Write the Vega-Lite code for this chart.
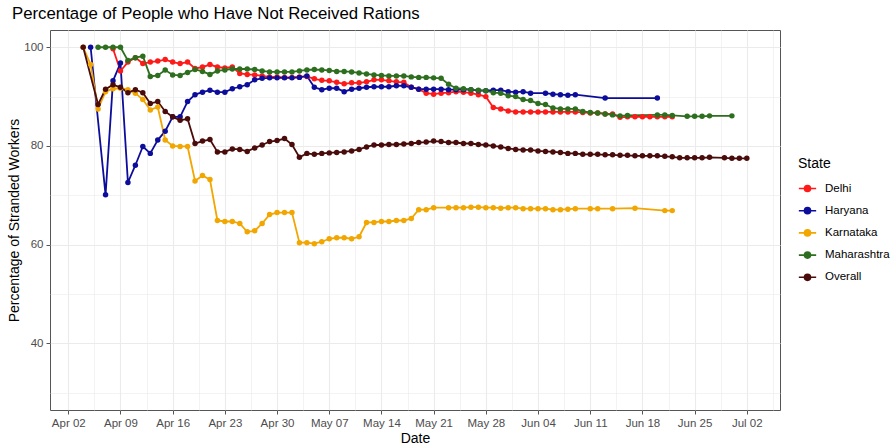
{
  "$schema": "https://vega.github.io/schema/vega-lite/v6.json",
  "width": 730,
  "height": 380,
  "autosize": {"type": "none"},
  "padding": {"left": 50, "top": 30, "right": 113, "bottom": 35},
  "background": "white",
  "title": {"text": "Percentage of People who Have Not Received Rations", "anchor": "start", "frame": "group", "dx": -38, "offset": 7, "fontSize": 16.8, "font": "Liberation Sans", "fontWeight": "normal", "color": "#000000"},
  "config": {
    "view": {"stroke": "#555555", "strokeWidth": 1},
    "font": "Liberation Sans"
  },
  "data": {"values": [
    {"date": "2020-04-08T00:00", "state": "Delhi", "pct": 99.7},
    {"date": "2020-04-09T00:00", "state": "Delhi", "pct": 95.2},
    {"date": "2020-04-10T00:00", "state": "Delhi", "pct": 97.0},
    {"date": "2020-04-11T00:00", "state": "Delhi", "pct": 97.9},
    {"date": "2020-04-12T00:00", "state": "Delhi", "pct": 96.7},
    {"date": "2020-04-13T00:00", "state": "Delhi", "pct": 97.0},
    {"date": "2020-04-14T00:00", "state": "Delhi", "pct": 97.2},
    {"date": "2020-04-15T00:00", "state": "Delhi", "pct": 97.5},
    {"date": "2020-04-16T00:00", "state": "Delhi", "pct": 97.0},
    {"date": "2020-04-17T00:00", "state": "Delhi", "pct": 96.7},
    {"date": "2020-04-18T00:00", "state": "Delhi", "pct": 97.0},
    {"date": "2020-04-19T00:00", "state": "Delhi", "pct": 95.7},
    {"date": "2020-04-20T00:00", "state": "Delhi", "pct": 96.0},
    {"date": "2020-04-21T00:00", "state": "Delhi", "pct": 96.5},
    {"date": "2020-04-22T00:00", "state": "Delhi", "pct": 96.0},
    {"date": "2020-04-23T00:00", "state": "Delhi", "pct": 95.8},
    {"date": "2020-04-24T00:00", "state": "Delhi", "pct": 96.0},
    {"date": "2020-04-25T00:00", "state": "Delhi", "pct": 94.7},
    {"date": "2020-04-26T00:00", "state": "Delhi", "pct": 94.5},
    {"date": "2020-04-27T00:00", "state": "Delhi", "pct": 94.4},
    {"date": "2020-04-28T00:00", "state": "Delhi", "pct": 94.2},
    {"date": "2020-04-29T00:00", "state": "Delhi", "pct": 94.0},
    {"date": "2020-04-30T00:00", "state": "Delhi", "pct": 94.0},
    {"date": "2020-05-01T00:00", "state": "Delhi", "pct": 93.9},
    {"date": "2020-05-02T00:00", "state": "Delhi", "pct": 93.9},
    {"date": "2020-05-03T00:00", "state": "Delhi", "pct": 94.0},
    {"date": "2020-05-04T00:00", "state": "Delhi", "pct": 94.1},
    {"date": "2020-05-05T00:00", "state": "Delhi", "pct": 93.6},
    {"date": "2020-05-06T00:00", "state": "Delhi", "pct": 93.3},
    {"date": "2020-05-07T00:00", "state": "Delhi", "pct": 93.2},
    {"date": "2020-05-08T00:00", "state": "Delhi", "pct": 92.9},
    {"date": "2020-05-09T00:00", "state": "Delhi", "pct": 92.6},
    {"date": "2020-05-10T00:00", "state": "Delhi", "pct": 92.8},
    {"date": "2020-05-11T00:00", "state": "Delhi", "pct": 92.8},
    {"date": "2020-05-12T00:00", "state": "Delhi", "pct": 93.0},
    {"date": "2020-05-13T00:00", "state": "Delhi", "pct": 93.4},
    {"date": "2020-05-14T00:00", "state": "Delhi", "pct": 93.4},
    {"date": "2020-05-15T00:00", "state": "Delhi", "pct": 93.2},
    {"date": "2020-05-16T00:00", "state": "Delhi", "pct": 93.0},
    {"date": "2020-05-17T00:00", "state": "Delhi", "pct": 92.9},
    {"date": "2020-05-18T00:00", "state": "Delhi", "pct": 91.9},
    {"date": "2020-05-19T00:00", "state": "Delhi", "pct": 91.5},
    {"date": "2020-05-20T00:00", "state": "Delhi", "pct": 90.7},
    {"date": "2020-05-21T00:00", "state": "Delhi", "pct": 90.5},
    {"date": "2020-05-22T00:00", "state": "Delhi", "pct": 90.7},
    {"date": "2020-05-23T00:00", "state": "Delhi", "pct": 90.8},
    {"date": "2020-05-24T00:00", "state": "Delhi", "pct": 91.0},
    {"date": "2020-05-25T00:00", "state": "Delhi", "pct": 90.9},
    {"date": "2020-05-26T00:00", "state": "Delhi", "pct": 90.7},
    {"date": "2020-05-27T00:00", "state": "Delhi", "pct": 90.4},
    {"date": "2020-05-28T00:00", "state": "Delhi", "pct": 90.0},
    {"date": "2020-05-29T00:00", "state": "Delhi", "pct": 87.8},
    {"date": "2020-05-30T00:00", "state": "Delhi", "pct": 87.5},
    {"date": "2020-05-31T00:00", "state": "Delhi", "pct": 87.1},
    {"date": "2020-06-01T00:00", "state": "Delhi", "pct": 86.9},
    {"date": "2020-06-02T00:00", "state": "Delhi", "pct": 86.9},
    {"date": "2020-06-03T00:00", "state": "Delhi", "pct": 86.9},
    {"date": "2020-06-04T00:00", "state": "Delhi", "pct": 86.9},
    {"date": "2020-06-05T00:00", "state": "Delhi", "pct": 86.9},
    {"date": "2020-06-06T00:00", "state": "Delhi", "pct": 86.9},
    {"date": "2020-06-07T00:00", "state": "Delhi", "pct": 86.9},
    {"date": "2020-06-08T00:00", "state": "Delhi", "pct": 86.9},
    {"date": "2020-06-09T00:00", "state": "Delhi", "pct": 86.9},
    {"date": "2020-06-10T00:00", "state": "Delhi", "pct": 86.8},
    {"date": "2020-06-11T00:00", "state": "Delhi", "pct": 86.7},
    {"date": "2020-06-12T00:00", "state": "Delhi", "pct": 86.7},
    {"date": "2020-06-13T00:00", "state": "Delhi", "pct": 86.5},
    {"date": "2020-06-14T00:00", "state": "Delhi", "pct": 86.5},
    {"date": "2020-06-15T00:00", "state": "Delhi", "pct": 85.8},
    {"date": "2020-06-16T00:00", "state": "Delhi", "pct": 85.9},
    {"date": "2020-06-17T00:00", "state": "Delhi", "pct": 85.9},
    {"date": "2020-06-18T00:00", "state": "Delhi", "pct": 85.9},
    {"date": "2020-06-19T00:00", "state": "Delhi", "pct": 85.9},
    {"date": "2020-06-20T00:00", "state": "Delhi", "pct": 85.9},
    {"date": "2020-06-21T00:00", "state": "Delhi", "pct": 85.9},
    {"date": "2020-06-22T00:00", "state": "Delhi", "pct": 85.9},

    {"date": "2020-04-05T00:00", "state": "Haryana", "pct": 100},
    {"date": "2020-04-07T00:00", "state": "Haryana", "pct": 70.1},
    {"date": "2020-04-08T00:00", "state": "Haryana", "pct": 93.2},
    {"date": "2020-04-09T00:00", "state": "Haryana", "pct": 96.8},
    {"date": "2020-04-10T00:00", "state": "Haryana", "pct": 72.6},
    {"date": "2020-04-11T00:00", "state": "Haryana", "pct": 76.1},
    {"date": "2020-04-12T00:00", "state": "Haryana", "pct": 79.9},
    {"date": "2020-04-13T00:00", "state": "Haryana", "pct": 78.5},
    {"date": "2020-04-14T00:00", "state": "Haryana", "pct": 81.2},
    {"date": "2020-04-15T00:00", "state": "Haryana", "pct": 83.0},
    {"date": "2020-04-16T00:00", "state": "Haryana", "pct": 85.9},
    {"date": "2020-04-17T00:00", "state": "Haryana", "pct": 85.9},
    {"date": "2020-04-18T00:00", "state": "Haryana", "pct": 89.0},
    {"date": "2020-04-19T00:00", "state": "Haryana", "pct": 90.4},
    {"date": "2020-04-20T00:00", "state": "Haryana", "pct": 90.9},
    {"date": "2020-04-21T00:00", "state": "Haryana", "pct": 91.3},
    {"date": "2020-04-22T00:00", "state": "Haryana", "pct": 90.9},
    {"date": "2020-04-23T00:00", "state": "Haryana", "pct": 90.9},
    {"date": "2020-04-24T00:00", "state": "Haryana", "pct": 91.6},
    {"date": "2020-04-25T00:00", "state": "Haryana", "pct": 92.0},
    {"date": "2020-04-26T00:00", "state": "Haryana", "pct": 92.4},
    {"date": "2020-04-27T00:00", "state": "Haryana", "pct": 93.4},
    {"date": "2020-04-28T00:00", "state": "Haryana", "pct": 93.7},
    {"date": "2020-04-29T00:00", "state": "Haryana", "pct": 93.8},
    {"date": "2020-04-30T00:00", "state": "Haryana", "pct": 93.8},
    {"date": "2020-05-01T00:00", "state": "Haryana", "pct": 93.8},
    {"date": "2020-05-02T00:00", "state": "Haryana", "pct": 93.8},
    {"date": "2020-05-03T00:00", "state": "Haryana", "pct": 93.9},
    {"date": "2020-05-04T00:00", "state": "Haryana", "pct": 94.2},
    {"date": "2020-05-05T00:00", "state": "Haryana", "pct": 91.9},
    {"date": "2020-05-06T00:00", "state": "Haryana", "pct": 91.4},
    {"date": "2020-05-07T00:00", "state": "Haryana", "pct": 91.7},
    {"date": "2020-05-08T00:00", "state": "Haryana", "pct": 91.7},
    {"date": "2020-05-09T00:00", "state": "Haryana", "pct": 91.0},
    {"date": "2020-05-10T00:00", "state": "Haryana", "pct": 91.5},
    {"date": "2020-05-11T00:00", "state": "Haryana", "pct": 91.7},
    {"date": "2020-05-12T00:00", "state": "Haryana", "pct": 91.9},
    {"date": "2020-05-13T00:00", "state": "Haryana", "pct": 92.0},
    {"date": "2020-05-14T00:00", "state": "Haryana", "pct": 92.0},
    {"date": "2020-05-15T00:00", "state": "Haryana", "pct": 92.0},
    {"date": "2020-05-16T00:00", "state": "Haryana", "pct": 92.2},
    {"date": "2020-05-17T00:00", "state": "Haryana", "pct": 92.2},
    {"date": "2020-05-18T00:00", "state": "Haryana", "pct": 91.9},
    {"date": "2020-05-19T00:00", "state": "Haryana", "pct": 91.5},
    {"date": "2020-05-20T00:00", "state": "Haryana", "pct": 91.5},
    {"date": "2020-05-21T00:00", "state": "Haryana", "pct": 91.5},
    {"date": "2020-05-22T00:00", "state": "Haryana", "pct": 91.5},
    {"date": "2020-05-23T00:00", "state": "Haryana", "pct": 91.4},
    {"date": "2020-05-24T00:00", "state": "Haryana", "pct": 91.4},
    {"date": "2020-05-25T00:00", "state": "Haryana", "pct": 91.4},
    {"date": "2020-05-26T00:00", "state": "Haryana", "pct": 91.4},
    {"date": "2020-05-27T00:00", "state": "Haryana", "pct": 91.2},
    {"date": "2020-05-28T00:00", "state": "Haryana", "pct": 91.2},
    {"date": "2020-05-29T00:00", "state": "Haryana", "pct": 91.3},
    {"date": "2020-05-30T00:00", "state": "Haryana", "pct": 91.3},
    {"date": "2020-05-31T00:00", "state": "Haryana", "pct": 91.0},
    {"date": "2020-06-01T00:00", "state": "Haryana", "pct": 90.9},
    {"date": "2020-06-02T00:00", "state": "Haryana", "pct": 91.0},
    {"date": "2020-06-03T00:00", "state": "Haryana", "pct": 90.7},
    {"date": "2020-06-05T00:00", "state": "Haryana", "pct": 90.7},
    {"date": "2020-06-06T00:00", "state": "Haryana", "pct": 90.5},
    {"date": "2020-06-07T00:00", "state": "Haryana", "pct": 90.4},
    {"date": "2020-06-08T00:00", "state": "Haryana", "pct": 90.3},
    {"date": "2020-06-09T00:00", "state": "Haryana", "pct": 90.4},
    {"date": "2020-06-13T00:00", "state": "Haryana", "pct": 89.7},
    {"date": "2020-06-20T00:00", "state": "Haryana", "pct": 89.7},

    {"date": "2020-04-04T00:00", "state": "Karnataka", "pct": 100},
    {"date": "2020-04-05T00:00", "state": "Karnataka", "pct": 96.5},
    {"date": "2020-04-06T00:00", "state": "Karnataka", "pct": 87.5},
    {"date": "2020-04-07T00:00", "state": "Karnataka", "pct": 91.0},
    {"date": "2020-04-08T00:00", "state": "Karnataka", "pct": 91.6},
    {"date": "2020-04-09T00:00", "state": "Karnataka", "pct": 91.7},
    {"date": "2020-04-10T00:00", "state": "Karnataka", "pct": 91.4},
    {"date": "2020-04-11T00:00", "state": "Karnataka", "pct": 90.7},
    {"date": "2020-04-12T00:00", "state": "Karnataka", "pct": 89.4},
    {"date": "2020-04-13T00:00", "state": "Karnataka", "pct": 87.3},
    {"date": "2020-04-14T00:00", "state": "Karnataka", "pct": 87.9},
    {"date": "2020-04-15T00:00", "state": "Karnataka", "pct": 81.2},
    {"date": "2020-04-16T00:00", "state": "Karnataka", "pct": 80.0},
    {"date": "2020-04-17T00:00", "state": "Karnataka", "pct": 79.9},
    {"date": "2020-04-18T00:00", "state": "Karnataka", "pct": 79.9},
    {"date": "2020-04-19T00:00", "state": "Karnataka", "pct": 72.9},
    {"date": "2020-04-20T00:00", "state": "Karnataka", "pct": 74.0},
    {"date": "2020-04-21T00:00", "state": "Karnataka", "pct": 73.2},
    {"date": "2020-04-22T00:00", "state": "Karnataka", "pct": 64.9},
    {"date": "2020-04-23T00:00", "state": "Karnataka", "pct": 64.7},
    {"date": "2020-04-24T00:00", "state": "Karnataka", "pct": 64.7},
    {"date": "2020-04-25T00:00", "state": "Karnataka", "pct": 64.3},
    {"date": "2020-04-26T00:00", "state": "Karnataka", "pct": 62.6},
    {"date": "2020-04-27T00:00", "state": "Karnataka", "pct": 62.8},
    {"date": "2020-04-28T00:00", "state": "Karnataka", "pct": 64.3},
    {"date": "2020-04-29T00:00", "state": "Karnataka", "pct": 66.1},
    {"date": "2020-04-30T00:00", "state": "Karnataka", "pct": 66.5},
    {"date": "2020-05-01T00:00", "state": "Karnataka", "pct": 66.5},
    {"date": "2020-05-02T00:00", "state": "Karnataka", "pct": 66.5},
    {"date": "2020-05-03T00:00", "state": "Karnataka", "pct": 60.4},
    {"date": "2020-05-04T00:00", "state": "Karnataka", "pct": 60.4},
    {"date": "2020-05-05T00:00", "state": "Karnataka", "pct": 60.2},
    {"date": "2020-05-06T00:00", "state": "Karnataka", "pct": 60.6},
    {"date": "2020-05-07T00:00", "state": "Karnataka", "pct": 61.2},
    {"date": "2020-05-08T00:00", "state": "Karnataka", "pct": 61.4},
    {"date": "2020-05-09T00:00", "state": "Karnataka", "pct": 61.4},
    {"date": "2020-05-10T00:00", "state": "Karnataka", "pct": 61.2},
    {"date": "2020-05-11T00:00", "state": "Karnataka", "pct": 61.6},
    {"date": "2020-05-12T00:00", "state": "Karnataka", "pct": 64.5},
    {"date": "2020-05-13T00:00", "state": "Karnataka", "pct": 64.5},
    {"date": "2020-05-14T00:00", "state": "Karnataka", "pct": 64.7},
    {"date": "2020-05-15T00:00", "state": "Karnataka", "pct": 64.7},
    {"date": "2020-05-16T00:00", "state": "Karnataka", "pct": 64.9},
    {"date": "2020-05-17T00:00", "state": "Karnataka", "pct": 64.9},
    {"date": "2020-05-18T00:00", "state": "Karnataka", "pct": 65.3},
    {"date": "2020-05-19T00:00", "state": "Karnataka", "pct": 67.1},
    {"date": "2020-05-20T00:00", "state": "Karnataka", "pct": 67.1},
    {"date": "2020-05-21T00:00", "state": "Karnataka", "pct": 67.5},
    {"date": "2020-05-23T00:00", "state": "Karnataka", "pct": 67.5},
    {"date": "2020-05-24T00:00", "state": "Karnataka", "pct": 67.5},
    {"date": "2020-05-25T00:00", "state": "Karnataka", "pct": 67.5},
    {"date": "2020-05-26T00:00", "state": "Karnataka", "pct": 67.6},
    {"date": "2020-05-27T00:00", "state": "Karnataka", "pct": 67.6},
    {"date": "2020-05-28T00:00", "state": "Karnataka", "pct": 67.5},
    {"date": "2020-05-29T00:00", "state": "Karnataka", "pct": 67.5},
    {"date": "2020-05-30T00:00", "state": "Karnataka", "pct": 67.4},
    {"date": "2020-05-31T00:00", "state": "Karnataka", "pct": 67.5},
    {"date": "2020-06-01T00:00", "state": "Karnataka", "pct": 67.5},
    {"date": "2020-06-02T00:00", "state": "Karnataka", "pct": 67.3},
    {"date": "2020-06-03T00:00", "state": "Karnataka", "pct": 67.3},
    {"date": "2020-06-04T00:00", "state": "Karnataka", "pct": 67.3},
    {"date": "2020-06-05T00:00", "state": "Karnataka", "pct": 67.3},
    {"date": "2020-06-06T00:00", "state": "Karnataka", "pct": 67.1},
    {"date": "2020-06-07T00:00", "state": "Karnataka", "pct": 67.1},
    {"date": "2020-06-08T00:00", "state": "Karnataka", "pct": 67.2},
    {"date": "2020-06-09T00:00", "state": "Karnataka", "pct": 67.3},
    {"date": "2020-06-11T00:00", "state": "Karnataka", "pct": 67.3},
    {"date": "2020-06-12T00:00", "state": "Karnataka", "pct": 67.3},
    {"date": "2020-06-14T00:00", "state": "Karnataka", "pct": 67.3},
    {"date": "2020-06-17T00:00", "state": "Karnataka", "pct": 67.4},
    {"date": "2020-06-21T00:00", "state": "Karnataka", "pct": 66.9},
    {"date": "2020-06-22T00:00", "state": "Karnataka", "pct": 66.9},

    {"date": "2020-04-06T00:00", "state": "Maharashtra", "pct": 100},
    {"date": "2020-04-07T00:00", "state": "Maharashtra", "pct": 100},
    {"date": "2020-04-08T00:00", "state": "Maharashtra", "pct": 100},
    {"date": "2020-04-09T00:00", "state": "Maharashtra", "pct": 100},
    {"date": "2020-04-10T00:00", "state": "Maharashtra", "pct": 97.3},
    {"date": "2020-04-11T00:00", "state": "Maharashtra", "pct": 97.9},
    {"date": "2020-04-12T00:00", "state": "Maharashtra", "pct": 98.2},
    {"date": "2020-04-13T00:00", "state": "Maharashtra", "pct": 94.1},
    {"date": "2020-04-14T00:00", "state": "Maharashtra", "pct": 94.3},
    {"date": "2020-04-15T00:00", "state": "Maharashtra", "pct": 95.4},
    {"date": "2020-04-16T00:00", "state": "Maharashtra", "pct": 94.4},
    {"date": "2020-04-17T00:00", "state": "Maharashtra", "pct": 94.3},
    {"date": "2020-04-18T00:00", "state": "Maharashtra", "pct": 94.9},
    {"date": "2020-04-19T00:00", "state": "Maharashtra", "pct": 95.5},
    {"date": "2020-04-20T00:00", "state": "Maharashtra", "pct": 95.1},
    {"date": "2020-04-21T00:00", "state": "Maharashtra", "pct": 94.5},
    {"date": "2020-04-22T00:00", "state": "Maharashtra", "pct": 95.2},
    {"date": "2020-04-23T00:00", "state": "Maharashtra", "pct": 95.4},
    {"date": "2020-04-24T00:00", "state": "Maharashtra", "pct": 95.6},
    {"date": "2020-04-25T00:00", "state": "Maharashtra", "pct": 95.6},
    {"date": "2020-04-26T00:00", "state": "Maharashtra", "pct": 95.6},
    {"date": "2020-04-27T00:00", "state": "Maharashtra", "pct": 95.5},
    {"date": "2020-04-28T00:00", "state": "Maharashtra", "pct": 95.2},
    {"date": "2020-04-29T00:00", "state": "Maharashtra", "pct": 95.0},
    {"date": "2020-04-30T00:00", "state": "Maharashtra", "pct": 95.0},
    {"date": "2020-05-01T00:00", "state": "Maharashtra", "pct": 95.0},
    {"date": "2020-05-02T00:00", "state": "Maharashtra", "pct": 95.0},
    {"date": "2020-05-03T00:00", "state": "Maharashtra", "pct": 95.2},
    {"date": "2020-05-04T00:00", "state": "Maharashtra", "pct": 95.4},
    {"date": "2020-05-05T00:00", "state": "Maharashtra", "pct": 95.5},
    {"date": "2020-05-06T00:00", "state": "Maharashtra", "pct": 95.4},
    {"date": "2020-05-07T00:00", "state": "Maharashtra", "pct": 95.3},
    {"date": "2020-05-08T00:00", "state": "Maharashtra", "pct": 95.1},
    {"date": "2020-05-09T00:00", "state": "Maharashtra", "pct": 95.1},
    {"date": "2020-05-10T00:00", "state": "Maharashtra", "pct": 95.0},
    {"date": "2020-05-11T00:00", "state": "Maharashtra", "pct": 94.8},
    {"date": "2020-05-12T00:00", "state": "Maharashtra", "pct": 94.6},
    {"date": "2020-05-13T00:00", "state": "Maharashtra", "pct": 94.4},
    {"date": "2020-05-14T00:00", "state": "Maharashtra", "pct": 94.3},
    {"date": "2020-05-15T00:00", "state": "Maharashtra", "pct": 94.2},
    {"date": "2020-05-16T00:00", "state": "Maharashtra", "pct": 94.2},
    {"date": "2020-05-17T00:00", "state": "Maharashtra", "pct": 94.2},
    {"date": "2020-05-18T00:00", "state": "Maharashtra", "pct": 94.0},
    {"date": "2020-05-19T00:00", "state": "Maharashtra", "pct": 93.9},
    {"date": "2020-05-20T00:00", "state": "Maharashtra", "pct": 93.9},
    {"date": "2020-05-21T00:00", "state": "Maharashtra", "pct": 93.8},
    {"date": "2020-05-22T00:00", "state": "Maharashtra", "pct": 93.7},
    {"date": "2020-05-23T00:00", "state": "Maharashtra", "pct": 92.5},
    {"date": "2020-05-24T00:00", "state": "Maharashtra", "pct": 91.7},
    {"date": "2020-05-25T00:00", "state": "Maharashtra", "pct": 91.6},
    {"date": "2020-05-26T00:00", "state": "Maharashtra", "pct": 91.4},
    {"date": "2020-05-27T00:00", "state": "Maharashtra", "pct": 91.3},
    {"date": "2020-05-28T00:00", "state": "Maharashtra", "pct": 91.2},
    {"date": "2020-05-29T00:00", "state": "Maharashtra", "pct": 90.8},
    {"date": "2020-05-30T00:00", "state": "Maharashtra", "pct": 90.7},
    {"date": "2020-05-31T00:00", "state": "Maharashtra", "pct": 90.2},
    {"date": "2020-06-01T00:00", "state": "Maharashtra", "pct": 90.0},
    {"date": "2020-06-02T00:00", "state": "Maharashtra", "pct": 89.4},
    {"date": "2020-06-03T00:00", "state": "Maharashtra", "pct": 89.2},
    {"date": "2020-06-04T00:00", "state": "Maharashtra", "pct": 88.6},
    {"date": "2020-06-05T00:00", "state": "Maharashtra", "pct": 88.4},
    {"date": "2020-06-06T00:00", "state": "Maharashtra", "pct": 87.7},
    {"date": "2020-06-07T00:00", "state": "Maharashtra", "pct": 87.5},
    {"date": "2020-06-08T00:00", "state": "Maharashtra", "pct": 87.5},
    {"date": "2020-06-09T00:00", "state": "Maharashtra", "pct": 87.5},
    {"date": "2020-06-10T00:00", "state": "Maharashtra", "pct": 87.0},
    {"date": "2020-06-11T00:00", "state": "Maharashtra", "pct": 86.8},
    {"date": "2020-06-12T00:00", "state": "Maharashtra", "pct": 86.7},
    {"date": "2020-06-13T00:00", "state": "Maharashtra", "pct": 86.5},
    {"date": "2020-06-14T00:00", "state": "Maharashtra", "pct": 86.3},
    {"date": "2020-06-15T00:00", "state": "Maharashtra", "pct": 86.1},
    {"date": "2020-06-16T00:00", "state": "Maharashtra", "pct": 86.2},
    {"date": "2020-06-20T00:00", "state": "Maharashtra", "pct": 86.3},
    {"date": "2020-06-21T00:00", "state": "Maharashtra", "pct": 86.3},
    {"date": "2020-06-22T00:00", "state": "Maharashtra", "pct": 86.2},
    {"date": "2020-06-24T00:00", "state": "Maharashtra", "pct": 86.0},
    {"date": "2020-06-25T00:00", "state": "Maharashtra", "pct": 86.0},
    {"date": "2020-06-26T00:00", "state": "Maharashtra", "pct": 86.0},
    {"date": "2020-06-27T00:00", "state": "Maharashtra", "pct": 86.1},
    {"date": "2020-06-30T00:00", "state": "Maharashtra", "pct": 86.1},

    {"date": "2020-04-04T00:00", "state": "Overall", "pct": 100},
    {"date": "2020-04-06T00:00", "state": "Overall", "pct": 88.4},
    {"date": "2020-04-07T00:00", "state": "Overall", "pct": 91.5},
    {"date": "2020-04-08T00:00", "state": "Overall", "pct": 92.4},
    {"date": "2020-04-09T00:00", "state": "Overall", "pct": 91.9},
    {"date": "2020-04-10T00:00", "state": "Overall", "pct": 90.8},
    {"date": "2020-04-11T00:00", "state": "Overall", "pct": 91.4},
    {"date": "2020-04-12T00:00", "state": "Overall", "pct": 90.8},
    {"date": "2020-04-13T00:00", "state": "Overall", "pct": 88.6},
    {"date": "2020-04-14T00:00", "state": "Overall", "pct": 89.0},
    {"date": "2020-04-15T00:00", "state": "Overall", "pct": 87.0},
    {"date": "2020-04-16T00:00", "state": "Overall", "pct": 85.9},
    {"date": "2020-04-17T00:00", "state": "Overall", "pct": 85.2},
    {"date": "2020-04-18T00:00", "state": "Overall", "pct": 85.5},
    {"date": "2020-04-19T00:00", "state": "Overall", "pct": 80.5},
    {"date": "2020-04-20T00:00", "state": "Overall", "pct": 81.0},
    {"date": "2020-04-21T00:00", "state": "Overall", "pct": 81.3},
    {"date": "2020-04-22T00:00", "state": "Overall", "pct": 78.8},
    {"date": "2020-04-23T00:00", "state": "Overall", "pct": 78.8},
    {"date": "2020-04-24T00:00", "state": "Overall", "pct": 79.4},
    {"date": "2020-04-25T00:00", "state": "Overall", "pct": 79.3},
    {"date": "2020-04-26T00:00", "state": "Overall", "pct": 78.9},
    {"date": "2020-04-27T00:00", "state": "Overall", "pct": 79.6},
    {"date": "2020-04-28T00:00", "state": "Overall", "pct": 80.2},
    {"date": "2020-04-29T00:00", "state": "Overall", "pct": 80.9},
    {"date": "2020-04-30T00:00", "state": "Overall", "pct": 81.1},
    {"date": "2020-05-01T00:00", "state": "Overall", "pct": 81.5},
    {"date": "2020-05-02T00:00", "state": "Overall", "pct": 80.3},
    {"date": "2020-05-03T00:00", "state": "Overall", "pct": 77.7},
    {"date": "2020-05-04T00:00", "state": "Overall", "pct": 78.5},
    {"date": "2020-05-05T00:00", "state": "Overall", "pct": 78.3},
    {"date": "2020-05-06T00:00", "state": "Overall", "pct": 78.5},
    {"date": "2020-05-07T00:00", "state": "Overall", "pct": 78.6},
    {"date": "2020-05-08T00:00", "state": "Overall", "pct": 78.7},
    {"date": "2020-05-09T00:00", "state": "Overall", "pct": 78.8},
    {"date": "2020-05-10T00:00", "state": "Overall", "pct": 79.0},
    {"date": "2020-05-11T00:00", "state": "Overall", "pct": 79.3},
    {"date": "2020-05-12T00:00", "state": "Overall", "pct": 79.8},
    {"date": "2020-05-13T00:00", "state": "Overall", "pct": 80.2},
    {"date": "2020-05-14T00:00", "state": "Overall", "pct": 80.2},
    {"date": "2020-05-15T00:00", "state": "Overall", "pct": 80.3},
    {"date": "2020-05-16T00:00", "state": "Overall", "pct": 80.3},
    {"date": "2020-05-17T00:00", "state": "Overall", "pct": 80.4},
    {"date": "2020-05-18T00:00", "state": "Overall", "pct": 80.5},
    {"date": "2020-05-19T00:00", "state": "Overall", "pct": 80.7},
    {"date": "2020-05-20T00:00", "state": "Overall", "pct": 80.8},
    {"date": "2020-05-21T00:00", "state": "Overall", "pct": 81.0},
    {"date": "2020-05-22T00:00", "state": "Overall", "pct": 80.9},
    {"date": "2020-05-23T00:00", "state": "Overall", "pct": 80.7},
    {"date": "2020-05-24T00:00", "state": "Overall", "pct": 80.7},
    {"date": "2020-05-25T00:00", "state": "Overall", "pct": 80.5},
    {"date": "2020-05-26T00:00", "state": "Overall", "pct": 80.5},
    {"date": "2020-05-27T00:00", "state": "Overall", "pct": 80.3},
    {"date": "2020-05-28T00:00", "state": "Overall", "pct": 80.2},
    {"date": "2020-05-29T00:00", "state": "Overall", "pct": 80.0},
    {"date": "2020-05-30T00:00", "state": "Overall", "pct": 79.8},
    {"date": "2020-05-31T00:00", "state": "Overall", "pct": 79.5},
    {"date": "2020-06-01T00:00", "state": "Overall", "pct": 79.3},
    {"date": "2020-06-02T00:00", "state": "Overall", "pct": 79.2},
    {"date": "2020-06-03T00:00", "state": "Overall", "pct": 79.2},
    {"date": "2020-06-04T00:00", "state": "Overall", "pct": 79.0},
    {"date": "2020-06-05T00:00", "state": "Overall", "pct": 78.9},
    {"date": "2020-06-06T00:00", "state": "Overall", "pct": 78.8},
    {"date": "2020-06-07T00:00", "state": "Overall", "pct": 78.7},
    {"date": "2020-06-08T00:00", "state": "Overall", "pct": 78.5},
    {"date": "2020-06-09T00:00", "state": "Overall", "pct": 78.5},
    {"date": "2020-06-10T00:00", "state": "Overall", "pct": 78.3},
    {"date": "2020-06-11T00:00", "state": "Overall", "pct": 78.3},
    {"date": "2020-06-12T00:00", "state": "Overall", "pct": 78.3},
    {"date": "2020-06-13T00:00", "state": "Overall", "pct": 78.2},
    {"date": "2020-06-14T00:00", "state": "Overall", "pct": 78.2},
    {"date": "2020-06-15T00:00", "state": "Overall", "pct": 78.1},
    {"date": "2020-06-16T00:00", "state": "Overall", "pct": 78.1},
    {"date": "2020-06-17T00:00", "state": "Overall", "pct": 78.0},
    {"date": "2020-06-18T00:00", "state": "Overall", "pct": 78.0},
    {"date": "2020-06-19T00:00", "state": "Overall", "pct": 78.0},
    {"date": "2020-06-20T00:00", "state": "Overall", "pct": 78.0},
    {"date": "2020-06-21T00:00", "state": "Overall", "pct": 77.9},
    {"date": "2020-06-22T00:00", "state": "Overall", "pct": 77.8},
    {"date": "2020-06-23T00:00", "state": "Overall", "pct": 77.6},
    {"date": "2020-06-24T00:00", "state": "Overall", "pct": 77.6},
    {"date": "2020-06-25T00:00", "state": "Overall", "pct": 77.6},
    {"date": "2020-06-26T00:00", "state": "Overall", "pct": 77.6},
    {"date": "2020-06-27T00:00", "state": "Overall", "pct": 77.7},
    {"date": "2020-06-29T00:00", "state": "Overall", "pct": 77.6},
    {"date": "2020-06-30T00:00", "state": "Overall", "pct": 77.5},
    {"date": "2020-07-01T00:00", "state": "Overall", "pct": 77.5},
    {"date": "2020-07-02T00:00", "state": "Overall", "pct": 77.5}
  ]},
  "encoding": {
    "x": {
      "field": "date", "type": "temporal", "title": "Date",
      "scale": {"domain": [{"year": 2020, "month": 3, "date": 30, "hours": 13, "minutes": 12}, {"year": 2020, "month": 7, "date": 6, "hours": 10, "minutes": 48}]},
      "axis": {
        "values": [
          {"year": 2020, "month": 4, "date": 2}, {"year": 2020, "month": 4, "date": 9}, {"year": 2020, "month": 4, "date": 16}, {"year": 2020, "month": 4, "date": 23}, {"year": 2020, "month": 4, "date": 30},
          {"year": 2020, "month": 5, "date": 7}, {"year": 2020, "month": 5, "date": 14}, {"year": 2020, "month": 5, "date": 21}, {"year": 2020, "month": 5, "date": 28},
          {"year": 2020, "month": 6, "date": 4}, {"year": 2020, "month": 6, "date": 11}, {"year": 2020, "month": 6, "date": 18}, {"year": 2020, "month": 6, "date": 25}, {"year": 2020, "month": 7, "date": 2},
          {"year": 2020, "month": 4, "date": 5, "hours": 12}, {"year": 2020, "month": 4, "date": 12, "hours": 12}, {"year": 2020, "month": 4, "date": 19, "hours": 12}, {"year": 2020, "month": 4, "date": 26, "hours": 12},
          {"year": 2020, "month": 5, "date": 3, "hours": 12}, {"year": 2020, "month": 5, "date": 10, "hours": 12}, {"year": 2020, "month": 5, "date": 17, "hours": 12}, {"year": 2020, "month": 5, "date": 24, "hours": 12}, {"year": 2020, "month": 5, "date": 31, "hours": 12},
          {"year": 2020, "month": 6, "date": 7, "hours": 12}, {"year": 2020, "month": 6, "date": 14, "hours": 12}, {"year": 2020, "month": 6, "date": 21, "hours": 12}, {"year": 2020, "month": 6, "date": 28, "hours": 12}, {"year": 2020, "month": 7, "date": 5, "hours": 12}
        ],
        "format": "%b %d",
        "labelExpr": "hours(datum.value) == 12 ? '' : datum.label",
        "labelOverlap": false,
        "labelFlush": false,
        "domain": false,
        "grid": true,
        "gridColor": "#EBEBEB",
        "gridWidth": {"condition": {"test": "hours(datum.value) == 12", "value": 0.6}, "value": 1.1},
        "tickOpacity": {"condition": {"test": "hours(datum.value) == 12", "value": 0}, "value": 1},
        "tickColor": "#555555",
        "tickSize": 4,
        "labelColor": "#4D4D4D",
        "labelFontSize": 11.5,
        "labelFont": "Liberation Sans",
        "labelPadding": 3,
        "titleFont": "Liberation Sans",
        "titleFontSize": 14,
        "titleFontWeight": "normal",
        "titleColor": "#000000",
        "titlePadding": 3
      }
    },
    "y": {
      "field": "pct", "type": "quantitative", "title": "Percentage of Stranded Workers",
      "scale": {"domain": [26.5, 103.5], "nice": false, "zero": false},
      "axis": {
        "values": [30, 40, 50, 60, 70, 80, 90, 100],
        "labelExpr": "datum.value % 20 == 0 ? datum.label : ''",
        "labelOverlap": false,
        "domain": false,
        "grid": true,
        "gridColor": "#EBEBEB",
        "gridWidth": {"condition": {"test": "datum.value % 20 != 0", "value": 0.6}, "value": 1.1},
        "tickOpacity": {"condition": {"test": "datum.value % 20 != 0", "value": 0}, "value": 1},
        "tickColor": "#555555",
        "tickSize": 4,
        "labelColor": "#4D4D4D",
        "labelFontSize": 11.5,
        "labelFont": "Liberation Sans",
        "labelPadding": 3,
        "titleFont": "Liberation Sans",
        "titleFontSize": 14,
        "titleFontWeight": "normal",
        "titleColor": "#000000",
        "titlePadding": 2
      }
    },
    "color": {
      "field": "state", "type": "nominal", "title": "State",
      "scale": {"domain": ["Delhi", "Haryana", "Karnataka", "Maharashtra", "Overall"], "range": ["#FF1A1A", "#0D0D9C", "#F2A600", "#2D6F1E", "#4A0B0B"]},
      "legend": {
        "orient": "none", "legendX": 748, "legendY": 127,
        "titleFont": "Liberation Sans", "titleFontSize": 14, "titleFontWeight": "normal", "titleColor": "#000000", "titlePadding": 8,
        "labelFont": "Liberation Sans", "labelFontSize": 11.5, "labelColor": "#000000", "labelOffset": 8,
        "symbolType": "M-1,0L1,0M-0.35,0A0.35,0.35,0,1,1,0.35,0A0.35,0.35,0,1,1,-0.35,0Z",
        "symbolSize": 300,
        "symbolStrokeWidth": 1.6,
        "rowPadding": 6.2,
        "encode": {"symbols": {"update": {"fill": {"scale": "color", "field": "value"}, "stroke": {"scale": "color", "field": "value"}, "strokeWidth": {"value": 1.6}, "opacity": {"value": 1}}}}
      }
    }
  },
  "layer": [
    {"mark": {"type": "line", "strokeWidth": 1.8}},
    {"mark": {"type": "point", "filled": true, "size": 30, "opacity": 1}}
  ]
}
